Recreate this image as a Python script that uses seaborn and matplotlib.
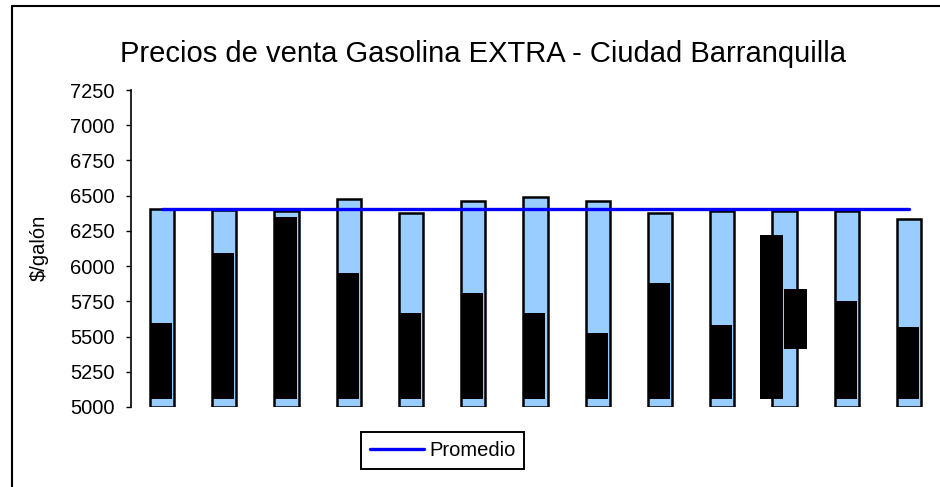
import numpy as np
import pandas as pd
import matplotlib
matplotlib.use('Agg')
import matplotlib.pyplot as plt
from matplotlib.lines import Line2D
import seaborn as sns

# periodos (el eje x no muestra etiquetas)
periodos = ['1', '2', '3', '4', '5', '6', '7', '8', '9', '10', '11', '12', '13']
# precio maximo (barras azules), $/galon
precio_max = [6405, 6398, 6388, 6476, 6379, 6462, 6493, 6464, 6379, 6391, 6391, 6391, 6334]
# precio minimo (barras negras)
precio_min = [5596, 6093, 6348, 5951, 5667, 5809, 5667, 5525, 5880, 5582, 6221, 5752, 5568]
base_min = 5057
# bloque negro adicional en el periodo 11
extra_periodo = 10
extra_bajo = 5412
extra_alto = 5837
promedio = [6405, 6405, 6405, 6405, 6405, 6405, 6405, 6405, 6405, 6405, 6405, 6405, 6405]
yticks = [5000, 5250, 5500, 5750, 6000, 6250, 6500, 6750, 7000, 7250]

sns.set_theme(style='white')
plt.rcParams['font.family'] = ['Liberation Sans', 'DejaVu Sans']

fig = plt.figure(figsize=(9.4, 4.87), dpi=100)
ax = fig.add_axes([131/940, 80/487, 809/940, 317/487])

df = pd.DataFrame({'periodo': periodos,
                   'alto': np.array(precio_max) - yticks[0]})
sns.barplot(data=df, x='periodo', y='alto', bottom=yticks[0],
            color='#99CCFF', saturation=1, width=0.39,
            edgecolor='black', linewidth=1.8, errorbar=None, ax=ax, zorder=2)

# barras negras, alineadas a la izquierda de cada barra azul
xs = np.arange(len(periodos)) - 0.195
xs[extra_periodo] -= 0.19
ax.bar(xs, np.array(precio_min) - base_min, bottom=base_min, width=0.355,
       align='edge', color='black', linewidth=0, zorder=3)
ax.bar(extra_periodo, extra_alto - extra_bajo, bottom=extra_bajo, width=0.355,
       align='edge', color='black', linewidth=0, zorder=3)

sns.lineplot(x=np.arange(len(periodos)), y=promedio, color='#0000FF',
             linewidth=2.4, ax=ax, legend=False, zorder=4)

ax.set_xlim(-0.5, 12.5)
ax.set_ylim(yticks[0], yticks[-1])
ax.set_yticks(yticks)
ax.set_xticks([])
ax.set_xlabel('')
ax.set_ylabel('')
for s in ['top', 'right', 'bottom']:
    ax.spines[s].set_visible(False)
ax.spines['left'].set_color('black')
ax.spines['left'].set_linewidth(1.2)
ax.tick_params(axis='y', direction='out', length=3.5, width=1.0,
               color='black', pad=8.5, labelsize=14.5, labelcolor='black', left=True)

fig.text(483.5/940, 1 - 62/487, 'Precios de venta Gasolina EXTRA - Ciudad Barranquilla',
         ha='center', va='baseline', fontsize=21, color='black')
fig.text(39/940, 1 - 248/487, '$/galón', rotation=90, ha='center', va='center',
         fontsize=14.5, color='black')

handle = Line2D([], [], color='#0000FF', linewidth=2.4)
leg = fig.legend([handle], ['Promedio'], loc='center',
                 bbox_to_anchor=(442.5/940, 1 - 450.5/487), fontsize=14.5,
                 frameon=True, fancybox=False, framealpha=1, edgecolor='black',
                 handlelength=2.7, handletextpad=0.25, borderpad=0.45,
                 borderaxespad=0, labelcolor='black')
leg.get_frame().set_linewidth(1.4)

# marco exterior del grafico (cortado a la derecha y abajo)
fig.add_artist(Line2D([12/940, 12/940], [0, 1 - 6/487], color='black',
                      linewidth=1.5, transform=fig.transFigure))
fig.add_artist(Line2D([12/940, 1], [1 - 6/487, 1 - 6/487], color='black',
                      linewidth=1.5, transform=fig.transFigure))

fig.savefig('out.png', dpi=100)
